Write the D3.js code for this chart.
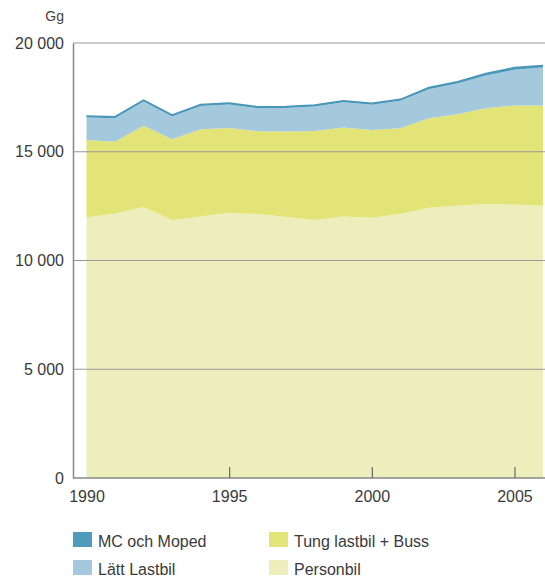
<!DOCTYPE html>
<html><head><meta charset="utf-8">
<script src="https://cdn.jsdelivr.net/npm/d3@7"></script>
<style>body{margin:0;background:#fff}svg{display:block;font-family:"Liberation Sans",Arial,sans-serif}</style>
</head><body>
<svg id="c" width="545" height="576"></svg>
<script>
const years = [1990,1991,1992,1993,1994,1995,1996,1997,1998,1999,2000,2001,2002,2003,2004,2005,2006];
const personbil = [11990,12150,12460,11860,12020,12200,12140,12000,11860,12020,11970,12140,12430,12520,12600,12570,12520];
const tungLastbilBuss = [3550,3310,3740,3710,4010,3890,3800,3930,4090,4100,4030,3940,4110,4200,4400,4560,4610];
const lattLastbil = [1030,1080,1110,1050,1070,1080,1060,1080,1130,1160,1160,1260,1330,1420,1510,1640,1740];
const mcMoped = [70,70,70,70,70,70,70,70,70,70,70,70,80,80,90,100,100];
const yTicks = [0,5000,10000,15000,20000];
const xTicks = [1990,1995,2000,2005];
const seriesNames = ["Personbil","Tung lastbil + Buss","Lätt Lastbil","MC och Moped"];
const colors = {"Personbil":"#ecefbb","Tung lastbil + Buss":"#e3e477","Lätt Lastbil":"#a4c8dc","MC och Moped":"#4e9bbb"};

const table = years.map((y,i)=>({year:y,"Personbil":personbil[i],"Tung lastbil + Buss":tungLastbilBuss[i],"Lätt Lastbil":lattLastbil[i],"MC och Moped":mcMoped[i]}));
const svg = d3.select("#c");
const x = d3.scaleLinear().domain([1990,2006]).range([86.5,543]);
const y = d3.scaleLinear().domain([0,20000]).range([478,43]);
const stack = d3.stack().keys(seriesNames)(table);
const area = d3.area().x(d=>x(d.data.year)).y0(d=>y(d[0])).y1(d=>y(d[1]));
svg.append("g").selectAll("path").data(stack).join("path")
  .attr("d",area).attr("fill",d=>colors[d.key]);
svg.append("path").datum(stack[3]).attr("fill","none").attr("stroke","#4a96b8").attr("stroke-width",1.5)
  .attr("d",d3.line().x(d=>x(d.data.year)).y(d=>y(d[1])));

svg.append("g").selectAll("line").data(yTicks.filter(v=>v>0)).join("line")
  .attr("x1",73).attr("x2",545).attr("y1",d=>y(d)).attr("y2",d=>y(d))
  .attr("stroke","#999").attr("stroke-width",1.2);
const fmt = v => v===0 ? "0" : d3.format(",")(v).replace(",", " ");
const ya = svg.append("g").attr("transform","translate(73,0)")
  .call(d3.axisLeft(y).tickValues(yTicks).tickSize(0).tickPadding(9).tickFormat(fmt));
ya.select(".domain").attr("stroke","#888").attr("stroke-width",1.5);
ya.selectAll("text").attr("font-size",16).attr("fill","#3a3a3a").attr("font-family","Liberation Sans, Arial, sans-serif");
const xa = svg.append("g").attr("transform","translate(0,478)")
  .call(d3.axisTop(x).tickValues(xTicks).tickSize(11).tickFormat(d3.format("d")));
xa.select(".domain").attr("d","M73,0H545").attr("stroke","#888").attr("stroke-width",1.5);
xa.selectAll(".tick line").attr("stroke","#666").attr("stroke-width",1.2).filter(d=>d===1990).remove();
xa.selectAll("text").attr("y",24).attr("font-size",16).attr("fill","#3a3a3a").attr("font-family","Liberation Sans, Arial, sans-serif");

svg.append("text").attr("x",64).attr("y",21).attr("text-anchor","end").attr("font-size",14).attr("fill","#444").text("Gg");

const legendItems = [
  {name:"MC och Moped",col:0,row:0},{name:"Tung lastbil + Buss",col:1,row:0},
  {name:"Lätt Lastbil",col:0,row:1},{name:"Personbil",col:1,row:1}];
const lg = svg.append("g").selectAll("g").data(legendItems).join("g")
  .attr("transform",d=>`translate(${73+d.col*196},${532+d.row*28})`);
lg.append("rect").attr("width",19).attr("height",15).attr("fill",d=>colors[d.name]);
lg.append("text").attr("x",25).attr("y",14.5).attr("font-size",16).attr("fill","#3a3a3a").text(d=>d.name);
</script>
</body></html>
